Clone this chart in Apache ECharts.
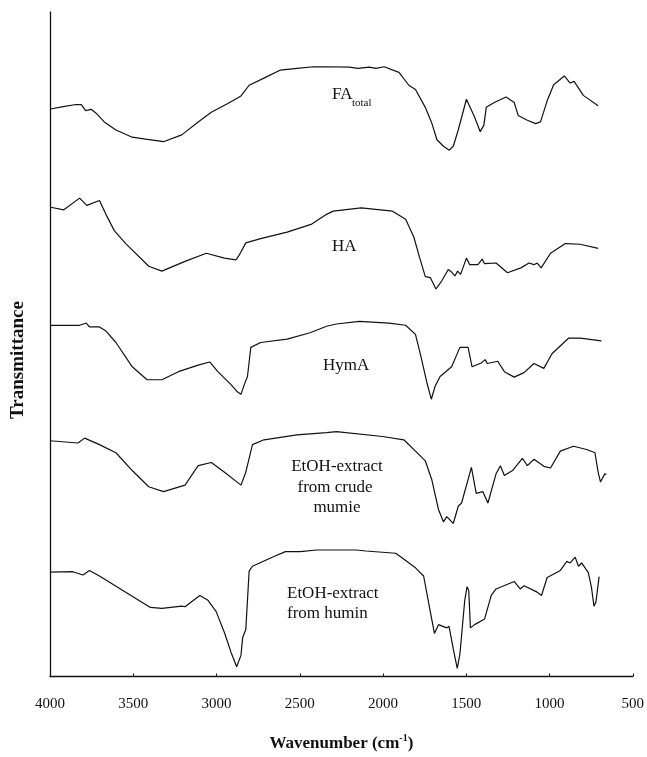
<!DOCTYPE html>
<html>
<head>
<meta charset="utf-8">
<script src="https://cdn.jsdelivr.net/npm/echarts@6/dist/echarts.min.js"></script>
<style>
html,body{margin:0;padding:0;background:#fff;}
#chart{width:647px;height:757px;}
</style>
</head>
<body>
<div id="chart"></div>
<script>
// Wavenumber tick labels (cm-1)
const xTicks = [4000, 3500, 3000, 2500, 2000, 1500, 1000, 500];

// Offset transmittance (arbitrary units)
const faWave = [3996,3921,3852,3812,3786,3753,3723,3674,3604,3506,3426,3318,3209,3110,3031,2932,2853,2804,2715,2616,2517,2418,2339,2201,2151,2082,2042,1993,1904,1845,1805,1746,1706,1676,1637,1602,1578,1548,1499,1450,1416,1394,1380,1331,1261,1212,1188,1133,1083,1054,1044,1014,975,911,876,852,797,708];
const faVal  = [583.3,585.7,587.7,587.7,581.7,583,579,570,561.7,554.3,552.3,549.7,556.7,570,580,589,596.7,607.7,615,623.3,625,626.7,626.7,626.3,625,626.3,625,626.7,621,607.7,603.3,585,568.3,551.7,545,541,545,561.7,593.3,575,560,566.7,585,590,595.7,590,576.7,571.7,568.3,570,568.3,591.7,608.3,617.3,610,611.7,597.3,586.7];

const haWave = [3996,3917,3822,3779,3703,3664,3614,3545,3407,3328,3189,3061,2952,2883,2863,2824,2735,2576,2428,2339,2299,2131,1943,1864,1815,1776,1746,1716,1682,1647,1608,1588,1568,1552,1534,1499,1479,1430,1404,1390,1321,1252,1172,1123,1093,1074,1050,994,905,816,708];
const haVal  = [482.3,479.7,491.7,484.3,489.3,475,458.3,445,421.7,416.7,426.7,435,430,428.3,433.3,445.7,450,456.7,465,475,478.3,481.7,478.3,470,451.7,428.3,411,410,398.3,406.7,418.3,415.7,411.7,416.7,413.3,430,423.3,423.3,429,424.3,425,415,420,425,423.3,425,420,435,445,444.3,440];

const hymWave = [3996,3901,3822,3782,3763,3703,3664,3604,3506,3417,3328,3229,3110,3041,2992,2913,2873,2853,2833,2814,2794,2735,2576,2438,2339,2280,2141,1964,1864,1805,1776,1736,1710,1687,1657,1588,1538,1489,1465,1410,1386,1374,1311,1271,1212,1153,1093,1034,985,886,816,688];
const hymVal  = [361,361,361,363.3,359.3,359.3,355,343.3,318.3,305,305,313.3,320,323.3,313.3,300,292.3,290,300,308.3,338.3,343.3,346.7,353.3,360,362.3,365,363.3,361,351.7,331.7,301.7,285,298.3,308.3,318.3,338.3,338.3,318.3,322.3,325.7,321.7,324,313.3,307.7,312.3,321.7,316.7,331.7,347.7,347.7,345];

const crudeWave = [4000,3832,3792,3703,3604,3506,3407,3318,3189,3110,3031,2952,2853,2824,2784,2715,2517,2339,2280,2003,1875,1805,1746,1706,1667,1637,1617,1578,1548,1528,1469,1440,1400,1370,1321,1295,1271,1222,1163,1133,1093,1034,994,935,856,777,727,708,694,668,658];
const crudeVal  = [242.3,240,245,238.3,230,211.7,195,190,196.7,216.7,220,210,196.7,210,238.3,243.3,248.3,250.7,251.7,246.7,243.3,231.7,221.7,201.7,171.7,159,164.3,157.3,175,178.3,215,188.3,190,178.3,208.3,216.7,206.7,211.7,224.3,216.7,223.3,216,214.3,231.7,236.7,233.3,230,210,200,208.3,207.7];

const huminWave = [4000,3862,3802,3763,3703,3397,3328,3209,3189,3100,3051,3002,2952,2913,2879,2853,2843,2824,2804,2784,2655,2586,2497,2398,2161,2102,1924,1884,1805,1756,1736,1716,1691,1667,1617,1604,1598,1578,1554,1538,1509,1495,1485,1475,1450,1390,1350,1321,1212,1176,1153,1074,1048,1014,935,896,876,846,826,807,767,748,733,721,702];
const huminVal  = [107.3,107.7,104.3,109,103.3,71,70,72.3,71.7,83.3,78.3,66.7,45,25,10,21.7,40,48.3,108.3,113.3,123.3,128.3,128.3,130,130,129,126.7,121.7,111.7,103.3,85,66.7,44.3,53.3,50,51.7,46.7,28.3,8.3,23.3,78.3,92.3,88.3,50,53.3,59,83.3,90,97.7,90,93.3,86.7,83.3,101.7,109,118.3,116.7,122.7,113.3,116.7,106.7,91.7,72.3,76.7,102.7];

const seriesNames = ['FAtotal', 'HA', 'HymA', 'EtOH-extract from crude mumie', 'EtOH-extract from humin'];
const seriesWaves = [faWave, haWave, hymWave, crudeWave, huminWave];
const seriesVals = [faVal, haVal, hymVal, crudeVal, huminVal];

const chart = echarts.init(document.getElementById('chart'), null, {renderer: 'canvas'});
const serif = '"Liberation Serif", "Times New Roman", serif';

const series = seriesNames.map((n, i) => ({
  name: n,
  type: 'line',
  showSymbol: false,
  symbol: 'none',
  smooth: false,
  lineStyle: {color: '#111', width: 1.2},
  data: seriesWaves[i].map((w, j) => [w, seriesVals[i][j]])
}));

chart.setOption({
  animation: false,
  backgroundColor: '#fff',
  grid: {left: 50, right: 7, top: 12, bottom: 62, containLabel: false},
  xAxis: {
    type: 'value',
    inverse: true,
    min: 500,
    max: 4000,
    interval: 500,
    axisLine: {show: true, lineStyle: {color: '#111', width: 1.3}},
    axisTick: {show: true, inside: true, length: 3, lineStyle: {color: '#111'}},
    splitLine: {show: false},
    axisLabel: {
      color: '#111', fontFamily: serif, fontSize: 15, margin: 20,
      formatter: v => xTicks.indexOf(v) >= 0 ? String(v) : ''
    },
    name: '{a|Wavenumber (cm}{s|-1}{a|)}',
    nameLocation: 'middle',
    nameGap: 57,
    nameTextStyle: {
      rich: {
        a: {fontFamily: serif, fontSize: 17, fontWeight: 'bold', color: '#111', lineHeight: 20},
        s: {fontFamily: serif, fontSize: 10, fontWeight: 'bold', color: '#111', lineHeight: 20, verticalAlign: 'top', padding: [0, 0, 6, 0]}
      }
    }
  },
  yAxis: {
    type: 'value',
    min: 0,
    max: 683,
    axisLine: {show: true, onZero: false, lineStyle: {color: '#111', width: 1.3}},
    axisTick: {show: false},
    axisLabel: {show: false},
    splitLine: {show: false}
  },
  series: series,
  graphic: [
    {type: 'text', x: 18, y: 360, rotation: Math.PI / 2,
     style: {text: 'Transmittance', font: 'bold 19px ' + serif, fill: '#111', align: 'center', verticalAlign: 'middle'}},
    {type: 'text', x: 332, y: 95, style: {text: 'FA', font: '17px ' + serif, fill: '#111', verticalAlign: 'middle'}},
    {type: 'text', x: 352, y: 103, style: {text: 'total', font: '11px ' + serif, fill: '#111', verticalAlign: 'middle'}},
    {type: 'text', x: 332, y: 247, style: {text: 'HA', font: '17px ' + serif, fill: '#111', verticalAlign: 'middle'}},
    {type: 'text', x: 323, y: 366, style: {text: 'HymA', font: '17px ' + serif, fill: '#111', verticalAlign: 'middle'}},
    {type: 'text', x: 337, y: 467, style: {text: 'EtOH-extract', font: '17px ' + serif, fill: '#111', align: 'center', verticalAlign: 'middle'}},
    {type: 'text', x: 335, y: 488, style: {text: 'from crude', font: '17px ' + serif, fill: '#111', align: 'center', verticalAlign: 'middle'}},
    {type: 'text', x: 337, y: 508, style: {text: 'mumie', font: '17px ' + serif, fill: '#111', align: 'center', verticalAlign: 'middle'}},
    {type: 'text', x: 287, y: 594, style: {text: 'EtOH-extract', font: '17px ' + serif, fill: '#111', verticalAlign: 'middle'}},
    {type: 'text', x: 287, y: 614, style: {text: 'from humin', font: '17px ' + serif, fill: '#111', verticalAlign: 'middle'}}
  ]
});
</script>
</body>
</html>
